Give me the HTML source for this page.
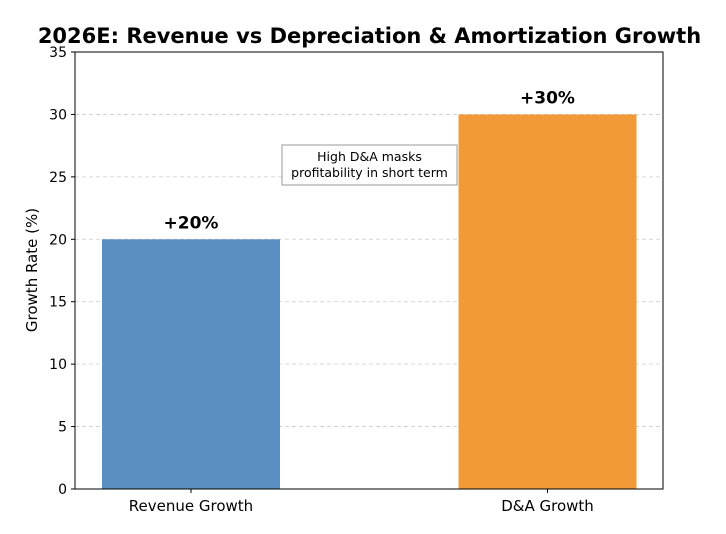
<!DOCTYPE html>
<html><head><meta charset="utf-8"><style>
body{margin:0;background:#fff;}
svg{display:block;font-family:"DejaVu Sans","Liberation Sans",sans-serif;}
</style></head><body>
<svg id="chart" width="726" height="534" viewBox="0 0 726 534">
<rect width="726" height="534" fill="#fff"/>
<text x="369.5" y="43" text-anchor="middle" font-size="21" font-weight="bold" fill="#000">2026E: Revenue vs Depreciation &amp; Amortization Growth</text>
<g id="grid"></g>
<g id="bars"></g>
<g id="yaxis"></g>
<g id="xaxis"></g>
<rect x="75" y="52" width="588" height="437" fill="none" stroke="#000" stroke-width="1"/>
<text transform="translate(37,270) rotate(-90)" text-anchor="middle" font-size="15" fill="#000">Growth Rate (%)</text>
<g>
<rect x="282" y="145" width="175" height="40" fill="#fff" stroke="#999" stroke-width="1"/>
<text x="369.5" y="161" text-anchor="middle" font-size="12.5" fill="#000">High D&amp;A masks</text>
<text x="369.5" y="177" text-anchor="middle" font-size="12.5" fill="#000">profitability in short term</text>
</g>
</svg>
<script>
const categories = ["Revenue Growth", "D&A Growth"];
const values = [20, 30];
const valueLabels = ["+20%", "+30%"];
const yTicks = [0, 5, 10, 15, 20, 25, 30, 35];
const colors = ["#5b8fc3", "#f39a38"];

const NS = "http://www.w3.org/2000/svg";
const plotL = 75, plotR = 663, plotT = 52, plotB = 489, yMax = 35;
const y = v => plotB - v / yMax * (plotB - plotT);
const x = i => plotL + (i === 0 ? 116 : 472.5);
const barW = 178;
function mk(tag, attrs, parent) { const e = document.createElementNS(NS, tag); for (const k in attrs) e.setAttribute(k, attrs[k]); parent.appendChild(e); return e; }
const grid = document.getElementById("grid"), bars = document.getElementById("bars"),
  ya = document.getElementById("yaxis"), xa = document.getElementById("xaxis");
yTicks.forEach(t => {
  if (t > 0 && t < yMax) {
    const g = mk("line", {x1: plotL, x2: plotR, y1: y(t), y2: y(t), stroke: "#ccc", "stroke-width": 0.8, "stroke-dasharray": "4,3"}, grid);
    
    
  }
  const tk = mk("line", {x1: plotL - 4, x2: plotL, y1: y(t), y2: y(t), stroke: "#000"}, ya);
  
  
  const lb = mk("text", {x: plotL - 8, y: y(t) + 5, "text-anchor": "end", "font-size": 14}, ya);
  lb.textContent = t;
  
  
});
categories.forEach((c, i) => {
  const cx = x(i);
  const r = mk("rect", {x: cx - barW / 2, y: y(values[i]), width: barW, height: plotB - y(values[i]), fill: colors[i]}, bars);
  
  
  const vl = mk("text", {x: cx, y: y(values[i]) - 11, "text-anchor": "middle", "font-size": 17, "font-weight": "bold"}, bars);
  vl.textContent = valueLabels[i];
  
  
  const tk = mk("line", {x1: cx, x2: cx, y1: plotB, y2: plotB + 4, stroke: "#000"}, xa);
  
  
  const xl = mk("text", {x: cx, y: plotB + 22, "text-anchor": "middle", "font-size": 15}, xa);
  xl.textContent = c;
  
  
});
</script>
</body></html>
